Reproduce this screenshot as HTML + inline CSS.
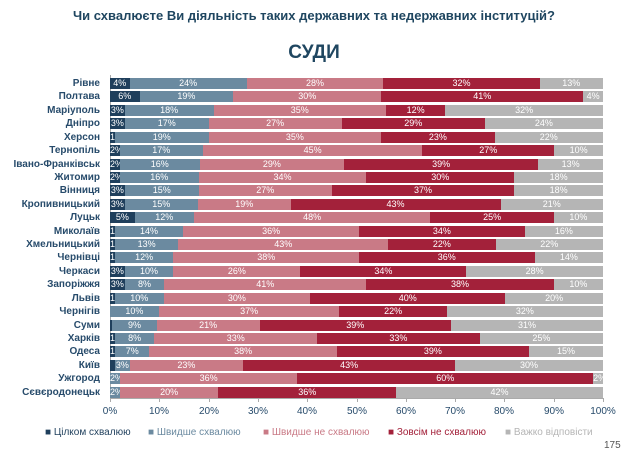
<!DOCTYPE html>
<html><head><meta charset="utf-8"><style>
body{margin:0;width:628px;height:456px;background:#fff;font-family:"Liberation Sans",sans-serif;position:relative;overflow:hidden}
.t{position:absolute;left:0;width:628px;text-align:center;color:#1f4660;font-weight:bold}
#rows{position:absolute;left:0;top:77px;width:628px}
.r{height:13.43px;position:relative;width:628px}
.l{position:absolute;right:528px;top:0;font-size:10px;font-weight:bold;color:#274b6b;white-space:nowrap;line-height:14px}
.b{position:absolute;left:110px;width:493px;top:1px;height:11px;display:flex}
.b div{overflow:visible;white-space:nowrap;font-size:9px;color:#fff;text-align:center;line-height:11px;min-width:0}
.a{background:#1f3f5c}.s{background:#6b8aa0}.p{background:#c97a86}.c{background:#a3213a}.g{background:#b5b5b5}
.ax{position:absolute;left:110px;top:398px;width:493px;height:1px;background:#aaa}
.tk{position:absolute;top:398px;width:1px;height:4px;background:#aaa}
.tl{position:absolute;top:406px;font-size:10px;color:#274b6b;width:40px;margin-left:-20px;text-align:center}
.lg{position:absolute;top:427px;font-size:10px;white-space:nowrap}
</style></head><body>
<div class="t" style="top:8px;font-size:13px">Чи схвалюєте Ви діяльність таких державних та недержавних інституцій?</div>
<div class="t" style="top:42px;font-size:19px">СУДИ</div>
<div style="position:absolute;left:110px;top:75px;width:1px;height:324px;background:#aaa"></div>
<div id="rows">
<div class="r"><span class="l">Рівне</span><div class="b"><div class="a" style="flex:4">4%</div><div class="s" style="flex:24">24%</div><div class="p" style="flex:28">28%</div><div class="c" style="flex:32">32%</div><div class="g" style="flex:13">13%</div></div></div>
<div class="r"><span class="l">Полтава</span><div class="b"><div class="a" style="flex:6">6%</div><div class="s" style="flex:19">19%</div><div class="p" style="flex:30">30%</div><div class="c" style="flex:41">41%</div><div class="g" style="flex:4">4%</div></div></div>
<div class="r"><span class="l">Маріуполь</span><div class="b"><div class="a" style="flex:3">3%</div><div class="s" style="flex:18">18%</div><div class="p" style="flex:35">35%</div><div class="c" style="flex:12">12%</div><div class="g" style="flex:32">32%</div></div></div>
<div class="r"><span class="l">Дніпро</span><div class="b"><div class="a" style="flex:3">3%</div><div class="s" style="flex:17">17%</div><div class="p" style="flex:27">27%</div><div class="c" style="flex:29">29%</div><div class="g" style="flex:24">24%</div></div></div>
<div class="r"><span class="l">Херсон</span><div class="b"><div class="a" style="flex:1">1%</div><div class="s" style="flex:19">19%</div><div class="p" style="flex:35">35%</div><div class="c" style="flex:23">23%</div><div class="g" style="flex:22">22%</div></div></div>
<div class="r"><span class="l">Тернопіль</span><div class="b"><div class="a" style="flex:2">2%</div><div class="s" style="flex:17">17%</div><div class="p" style="flex:45">45%</div><div class="c" style="flex:27">27%</div><div class="g" style="flex:10">10%</div></div></div>
<div class="r"><span class="l">Івано-Франківськ</span><div class="b"><div class="a" style="flex:2">2%</div><div class="s" style="flex:16">16%</div><div class="p" style="flex:29">29%</div><div class="c" style="flex:39">39%</div><div class="g" style="flex:13">13%</div></div></div>
<div class="r"><span class="l">Житомир</span><div class="b"><div class="a" style="flex:2">2%</div><div class="s" style="flex:16">16%</div><div class="p" style="flex:34">34%</div><div class="c" style="flex:30">30%</div><div class="g" style="flex:18">18%</div></div></div>
<div class="r"><span class="l">Вінниця</span><div class="b"><div class="a" style="flex:3">3%</div><div class="s" style="flex:15">15%</div><div class="p" style="flex:27">27%</div><div class="c" style="flex:37">37%</div><div class="g" style="flex:18">18%</div></div></div>
<div class="r"><span class="l">Кропивницький</span><div class="b"><div class="a" style="flex:3">3%</div><div class="s" style="flex:15">15%</div><div class="p" style="flex:19">19%</div><div class="c" style="flex:43">43%</div><div class="g" style="flex:21">21%</div></div></div>
<div class="r"><span class="l">Луцьк</span><div class="b"><div class="a" style="flex:5">5%</div><div class="s" style="flex:12">12%</div><div class="p" style="flex:48">48%</div><div class="c" style="flex:25">25%</div><div class="g" style="flex:10">10%</div></div></div>
<div class="r"><span class="l">Миколаїв</span><div class="b"><div class="a" style="flex:1">1%</div><div class="s" style="flex:14">14%</div><div class="p" style="flex:36">36%</div><div class="c" style="flex:34">34%</div><div class="g" style="flex:16">16%</div></div></div>
<div class="r"><span class="l">Хмельницький</span><div class="b"><div class="a" style="flex:1">1%</div><div class="s" style="flex:13">13%</div><div class="p" style="flex:43">43%</div><div class="c" style="flex:22">22%</div><div class="g" style="flex:22">22%</div></div></div>
<div class="r"><span class="l">Чернівці</span><div class="b"><div class="a" style="flex:1">1%</div><div class="s" style="flex:12">12%</div><div class="p" style="flex:38">38%</div><div class="c" style="flex:36">36%</div><div class="g" style="flex:14">14%</div></div></div>
<div class="r"><span class="l">Черкаси</span><div class="b"><div class="a" style="flex:3">3%</div><div class="s" style="flex:10">10%</div><div class="p" style="flex:26">26%</div><div class="c" style="flex:34">34%</div><div class="g" style="flex:28">28%</div></div></div>
<div class="r"><span class="l">Запоріжжя</span><div class="b"><div class="a" style="flex:3">3%</div><div class="s" style="flex:8">8%</div><div class="p" style="flex:41">41%</div><div class="c" style="flex:38">38%</div><div class="g" style="flex:10">10%</div></div></div>
<div class="r"><span class="l">Львів</span><div class="b"><div class="a" style="flex:1">1%</div><div class="s" style="flex:10">10%</div><div class="p" style="flex:30">30%</div><div class="c" style="flex:40">40%</div><div class="g" style="flex:20">20%</div></div></div>
<div class="r"><span class="l">Чернігів</span><div class="b"><div class="s" style="flex:10">10%</div><div class="p" style="flex:37">37%</div><div class="c" style="flex:22">22%</div><div class="g" style="flex:32">32%</div></div></div>
<div class="r"><span class="l">Суми</span><div class="b"><div class="a" style="flex:0.5"></div><div class="s" style="flex:9">9%</div><div class="p" style="flex:21">21%</div><div class="c" style="flex:39">39%</div><div class="g" style="flex:31">31%</div></div></div>
<div class="r"><span class="l">Харків</span><div class="b"><div class="a" style="flex:1">1%</div><div class="s" style="flex:8">8%</div><div class="p" style="flex:33">33%</div><div class="c" style="flex:33">33%</div><div class="g" style="flex:25">25%</div></div></div>
<div class="r"><span class="l">Одеса</span><div class="b"><div class="a" style="flex:1">1%</div><div class="s" style="flex:7">7%</div><div class="p" style="flex:38">38%</div><div class="c" style="flex:39">39%</div><div class="g" style="flex:15">15%</div></div></div>
<div class="r"><span class="l">Київ</span><div class="b"><div class="a" style="flex:1"></div><div class="s" style="flex:3">3%</div><div class="p" style="flex:23">23%</div><div class="c" style="flex:43">43%</div><div class="g" style="flex:30">30%</div></div></div>
<div class="r"><span class="l">Ужгород</span><div class="b"><div class="s" style="flex:2">2%</div><div class="p" style="flex:36">36%</div><div class="c" style="flex:60">60%</div><div class="g" style="flex:2">2%</div></div></div>
<div class="r"><span class="l">Сєвєродонецьк</span><div class="b"><div class="s" style="flex:2">2%</div><div class="p" style="flex:20">20%</div><div class="c" style="flex:36">36%</div><div class="g" style="flex:42">42%</div></div></div>
</div>
<div class="ax"></div>
<div class="tk" style="left:110px"></div><div class="tk" style="left:159px"></div><div class="tk" style="left:209px"></div><div class="tk" style="left:258px"></div><div class="tk" style="left:307px"></div><div class="tk" style="left:357px"></div><div class="tk" style="left:406px"></div><div class="tk" style="left:455px"></div><div class="tk" style="left:504px"></div><div class="tk" style="left:554px"></div><div class="tk" style="left:603px"></div>
<div class="tl" style="left:110px">0%</div><div class="tl" style="left:159px">10%</div><div class="tl" style="left:209px">20%</div><div class="tl" style="left:258px">30%</div><div class="tl" style="left:307px">40%</div><div class="tl" style="left:357px">50%</div><div class="tl" style="left:406px">60%</div><div class="tl" style="left:455px">70%</div><div class="tl" style="left:504px">80%</div><div class="tl" style="left:554px">90%</div><div class="tl" style="left:603px">100%</div>
<div class="lg" style="left:45px;color:#1f3f5c">■ Цілком схвалюю</div>
<div class="lg" style="left:148px;color:#6b8aa0">■ Швидше схвалюю</div>
<div class="lg" style="left:263px;color:#c97a86">■ Швидше не схвалюю</div>
<div class="lg" style="left:388px;color:#a3213a">■ Зовсім не схвалюю</div>
<div class="lg" style="left:505px;color:#b5b5b5">■ Важко відповісти</div>
<div style="position:absolute;left:604px;top:440px;font-size:10px;color:#555">175</div>
</body></html>
